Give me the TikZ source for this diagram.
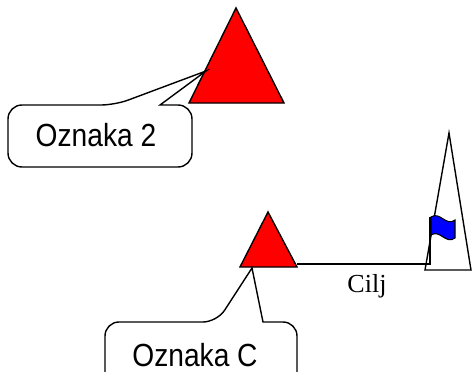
\documentclass[tikz,border=0pt]{standalone}
\usepackage{fontspec}
\newfontfamily\calloutfont[FakeStretch=0.88]{Liberation Sans}
\newfontfamily\labelfont{Liberation Serif}
\tikzset{
  marker/.style={draw=black,line width=1.4pt,fill=red,line join=miter},
  callout/.style={draw=black,line width=1.4pt,fill=white},
  peak/.style={draw=black,line width=1.4pt},
  calltext/.style={font=\calloutfont\fontsize{32}{36}\selectfont,inner sep=0pt,anchor=base},
}
\begin{document}
\begin{tikzpicture}[x=1pt,y=-1pt]
    \useasboundingbox (0,0) rectangle (472,372);
    \clip (0,0) rectangle (472,372);
    % marker 2
    \coordinate (m2top) at (236,8);
    \coordinate (m2left) at (189,103);
    \coordinate (m2right) at (284,103);
    \draw [marker] (m2top) -- (m2right) -- (m2left) -- cycle;
    % marker C
    \coordinate (mctop) at (268,212);
    \coordinate (mcleft) at (240,267);
    \coordinate (mcright) at (297,267);
    \draw [marker] (mctop) -- (mcright) -- (mcleft) -- cycle;
    % goal: peak with flag
    \coordinate (ptop) at (449,133);
    \coordinate (pleft) at (425,270);
    \coordinate (pright) at (471,270);
    \draw [peak] (ptop) -- (pright) -- (pleft) -- cycle;
    \coordinate (pole) at (430,264);
    \coordinate (poletop) at (430,217);
    \draw [draw=black,line width=1.1pt,fill=blue]
        (431,217) .. controls (440,211) and (446,227) .. (455,220)
        -- (455,238) .. controls (446,245) and (440,229) .. (431,235) -- cycle;
    \draw [line width=1.4pt] (mcright |- pole) -- (pole) -- (poletop);
    \node [font=\labelfont\fontsize{26}{30}\selectfont,anchor=base,inner sep=0pt] (cilj) at (367,292) {Cilj};
    % callout for marker 2
    \coordinate (tip2) at (206,71);
    \draw [callout,rounded corners=14pt] (8,105) -- (115,105)
        [sharp corners] -- (tip2) -- (160,105)
        [rounded corners=14pt] -- (192,105) -- (192,167) -- (8,167) -- cycle;
    \node [calltext] (lab2) at (96,146) {Oznaka 2};
    % callout for marker C
    \coordinate (tipc) at (252,268);
    \draw [callout,rounded corners=14pt] (105,322) -- (217,322)
        [sharp corners] -- (tipc) -- (263,322)
        [rounded corners=14pt] -- (297,322) -- (297,386) -- (105,386) -- cycle;
    \node [calltext] (labc) at (195,366) {Oznaka C};
\end{tikzpicture}
\end{document}
